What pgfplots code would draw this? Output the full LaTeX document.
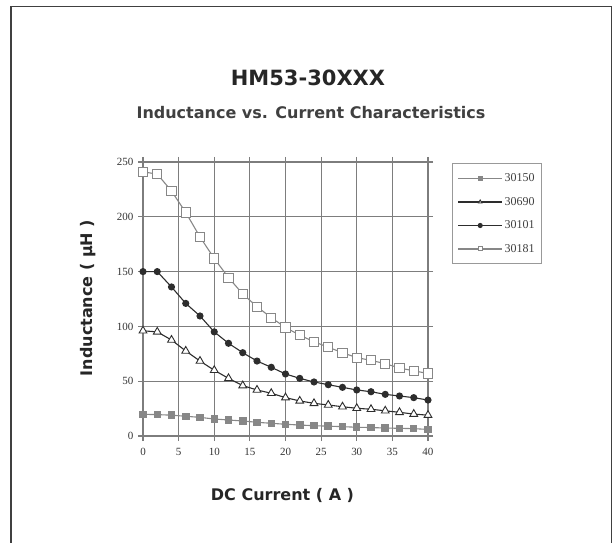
\documentclass[border=0pt]{standalone}
\usepackage{fontspec}
\setmainfont{Liberation Serif}
\newfontfamily\titlefont{DejaVu Sans}
\usepackage{pgfplots}
\pgfplotsset{compat=1.18}
\definecolor{gridc}{RGB}{125,125,125}
\definecolor{lightser}{RGB}{135,135,135}
\definecolor{darkser}{RGB}{45,45,45}
\pgfplotstableread{
x a b c d
0 19.8 96 150 241
2 19.5 95 150 239
4 19 87.6 136 223.5
6 18 77.6 121 204
8 17 68.4 109.5 181.6
10 15.5 60 95 162
12 14.6 52.6 84.6 144.5
14 13.7 46 76 129.6
16 12.5 42 68.4 118
18 11.6 39 62.7 108
20 10.7 35 56.6 99
22 10 32 52.6 92
24 9.4 29.8 49.3 86
26 9 28.3 46.8 81
28 8.5 26.7 44.4 76
30 8 25.3 42 71.5
32 7.7 24.4 40.4 69
34 7.3 23 38 66
36 7 21.6 36.5 62
38 6.7 20 35 59.5
40 6 19 32.8 57
}\datatable
\begin{document}
\begin{tikzpicture}
\useasboundingbox (0pt,0pt) rectangle (614pt,542pt);
\draw[line width=1.8pt, draw=black!75] (11pt,-10pt) -- (11pt,535.5pt) -- (611.5pt,535.5pt) -- (611.5pt,-10pt);
\node[font=\titlefont\bfseries\fontsize{21}{25}\selectfont, text=black!85] at (308pt,464pt) {HM53-30XXX};
\node[font=\titlefont\bfseries\fontsize{16}{19}\selectfont, text=black!75] at (311pt,429pt) {Inductance vs. Current Characteristics};
\node[font=\titlefont\bfseries\fontsize{16}{19}\selectfont, text=black!85] at (282.5pt,47pt) {DC Current ( A )};
\node[font=\titlefont\bfseries\fontsize{16}{19}\selectfont, text=black!85, rotate=90] at (88pt,244pt) {Inductance ( µH )};
\begin{axis}[at={(143pt,106pt)}, anchor=south west, scale only axis,
  width=285pt, height=274pt,
  xmin=0, xmax=40, ymin=0, ymax=250,
  xtick={0,5,...,40}, ytick={0,50,...,250},
  grid=major, grid style={gridc, line width=1.2pt},
  axis line style={gridc, line width=1.2pt},
  tick style={gridc, line width=1.2pt},
  tick align=outside, major tick length=5pt,
  /pgf/number format/assume math mode=true,
  tick label style={font=\fontsize{11}{13}\selectfont, text=black!80},
  xticklabel style={yshift=-4pt},
  yticklabel style={xshift=-1pt},
  legend style={at={(1.084,0.996)}, anchor=north west, draw=gray!80, line width=1.4pt,
    font=\fontsize{12}{14}\selectfont, text=black!75, row sep=10pt,
    inner xsep=5pt, inner ysep=8pt},
  legend cell align=left,
  legend image code/.code={\draw[#1, mark repeat=2, mark phase=2, mark size=2pt] plot coordinates {(0pt,0pt) (22pt,0pt) (44pt,0pt)};},
  every axis plot/.append style={line width=1.1pt},
]
\addplot[lightser, mark=square*, mark size=3.2pt, mark options={fill=lightser, draw=lightser}] table[x=x,y=a] {\datatable};
\addlegendentry{30150}
\addplot[darkser, mark=triangle*, mark size=4.5pt, mark options={fill=white, draw=darkser, line width=0.9pt}] table[x=x,y=b] {\datatable};
\addlegendentry{30690}
\addplot[darkser, mark=*, mark size=3pt, mark options={fill=darkser, draw=darkser}] table[x=x,y=c] {\datatable};
\addlegendentry{30101}
\addplot[lightser, mark=square*, mark size=4.6pt, mark options={fill=white, draw=lightser, line width=1pt}] table[x=x,y=d] {\datatable};
\addlegendentry{30181}
\end{axis}
\end{tikzpicture}
\end{document}
